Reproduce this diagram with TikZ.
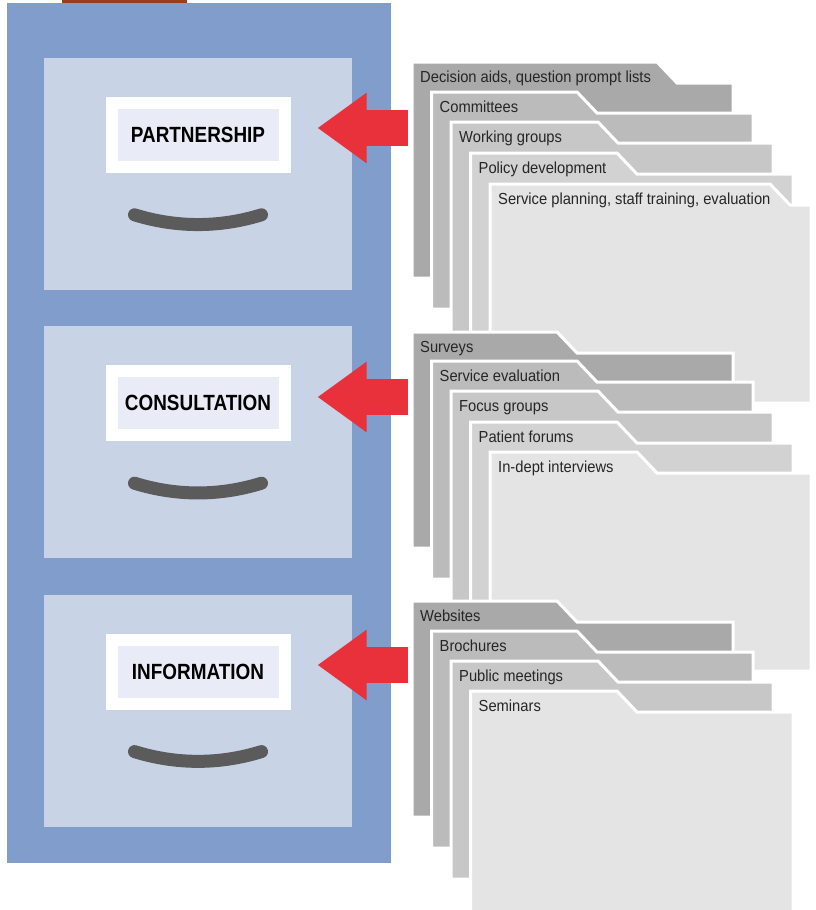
\documentclass[tikz,border=0pt]{standalone}
\usepackage{fontspec}
\setmainfont{Liberation Sans}[FakeStretch=0.92]
\newfontfamily\labfont{Liberation Sans}[FakeStretch=0.86]
\usepackage{tikz}
\usetikzlibrary{positioning}
\usetikzlibrary{calc}
\usetikzlibrary{arrows.meta}

\definecolor{cabblue}{HTML}{809DCB}
\definecolor{drawerblue}{HTML}{C9D3E6}
\definecolor{labelblue}{HTML}{E9ECF6}
\definecolor{handlegray}{HTML}{5B5B5B}
\definecolor{arrowred}{HTML}{E8313A}
\definecolor{brownstrip}{HTML}{9B3C1A}
\definecolor{fa}{HTML}{A9A9A9}
\definecolor{fb}{HTML}{BBBBBB}
\definecolor{fc}{HTML}{C7C7C7}
\definecolor{fd}{HTML}{D2D2D2}
\definecolor{fe}{HTML}{E4E4E4}

% name, left, top, tab end, right, bottom, fill, text
\newcommand{\folder}[8]{%
\draw[folderline, fill=#7] (#2,#3) -- (#4,#3) -- ++(20,21) -- (#5,#3+21) -- (#5,#6) -- (#2,#6) -- cycle;
\node[foldertext] (#1) at (#2+8,#3+20) {#8};
}

\begin{document}
\begin{tikzpicture}[x=1pt, y=-1pt,
  cabinet/.style={fill=cabblue},
  drawer/.style={fill=drawerblue, minimum width=308pt, minimum height=232pt, inner sep=0pt},
  labelbox/.style={fill=labelblue, draw=white, line width=12pt, minimum width=173pt, minimum height=64pt, inner sep=0pt, font=\labfont\bfseries\fontsize{22}{26}\selectfont},
  handle/.style={draw=handlegray, line width=13pt, line cap=round},
  bigarrow/.style={draw=arrowred, line width=36pt, -{Triangle[length=49pt, width=67pt]}},
  folderline/.style={draw=white, line width=3pt},
  foldertext/.style={anchor=base west, inner sep=0pt, font=\fontsize{16}{18}\selectfont, text=black!85}]
\useasboundingbox (0,0) rectangle (815,910);

\fill[brownstrip] (62,0) rectangle (187,3);
\fill[cabinet] (7,3) rectangle (391,863);

\node[drawer] (d1) at (198,174) {};
\node[drawer, below=36pt of d1] (d2) {};
\node[drawer, below=36pt of d2] (d3) {};

\node[labelbox, below=39pt of d1.north] (partner) {PARTNERSHIP};
\node[labelbox, below=39pt of d2.north] (consult) {CONSULTATION};
\node[labelbox, below=39pt of d3.north] (inform)  {INFORMATION};

\draw[handle] ($(d1.north)+(-63.5,157)$) .. controls +(42,13) and +(-42,13) .. ($(d1.north)+(63.5,157)$);
\draw[handle] ($(d2.north)+(-63.5,157)$) .. controls +(42,13) and +(-42,13) .. ($(d2.north)+(63.5,157)$);
\draw[handle] ($(d3.north)+(-63.5,157)$) .. controls +(42,13) and +(-42,13) .. ($(d3.north)+(63.5,157)$);

\coordinate (s1) at (412,128);
\coordinate (s2) at (412,397);
\coordinate (s3) at (412,665);
\draw[bigarrow, shorten <=4pt, shorten >=27pt] (s1) -- (s1 -| partner.east);
\draw[bigarrow, shorten <=4pt, shorten >=27pt] (s2) -- (s2 -| consult.east);
\draw[bigarrow, shorten <=4pt, shorten >=27pt] (s3) -- (s3 -| inform.east);

\folder{decision}{412}{62}{657}{733}{278}{fa}{Decision aids, question prompt lists}
\folder{committees}{431.5}{92}{577}{753}{309}{fb}{Committees}
\folder{working}{451}{122}{598}{773}{340}{fc}{Working groups}
\folder{policy}{470.5}{153}{617}{793}{371}{fd}{Policy development}
\folder{planning}{490}{184}{770}{811}{403}{fe}{Service planning, staff training, evaluation}

\folder{surveys}{412}{332}{557}{733}{548}{fa}{Surveys}
\folder{evaluation}{431.5}{361}{577}{753}{579}{fb}{Service evaluation}
\folder{focus}{451}{391}{598}{773}{610}{fc}{Focus groups}
\folder{forums}{470.5}{422}{617}{793}{641}{fd}{Patient forums}
\folder{interviews}{490}{452}{637}{811}{671}{fe}{In-dept interviews}

\folder{websites}{412}{601}{557}{733}{817}{fa}{Websites}
\folder{brochures}{431.5}{631}{577}{753}{848}{fb}{Brochures}
\folder{meetings}{451}{661}{598}{773}{879}{fc}{Public meetings}
\folder{seminars}{470.5}{691}{617}{793}{912}{fe}{Seminars}
\end{tikzpicture}
\end{document}
